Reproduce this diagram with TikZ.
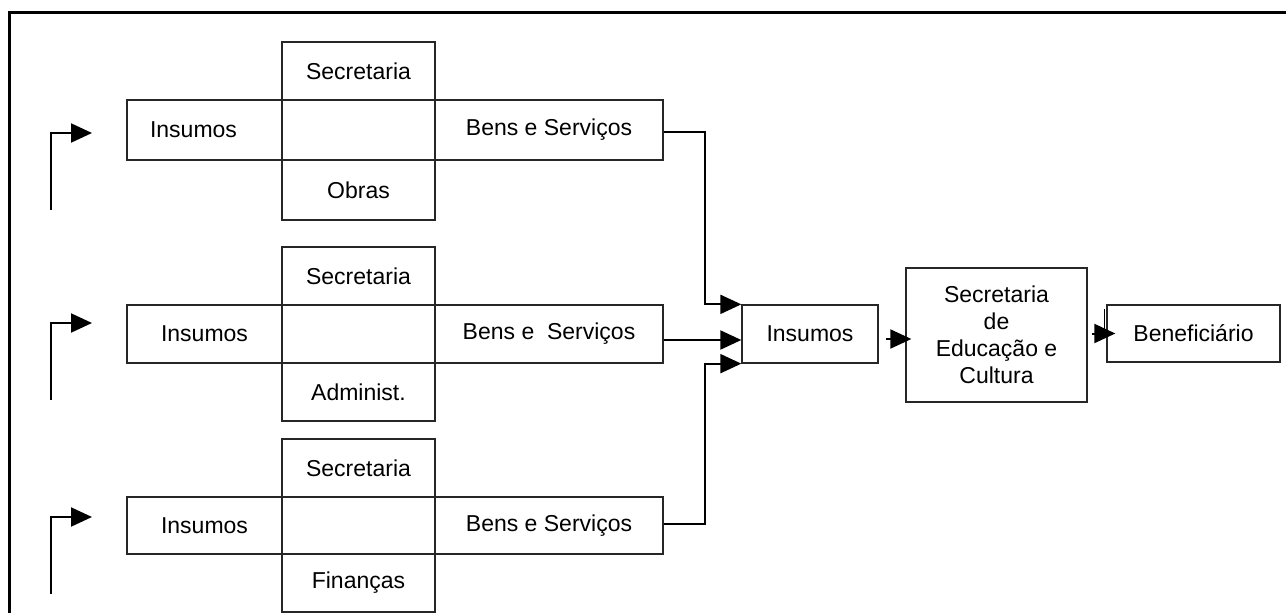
\documentclass[tikz,border=0pt]{standalone}
\usepackage{fontspec}
\setmainfont{Liberation Sans}
\usetikzlibrary{arrows.meta}
\begin{document}
\begin{tikzpicture}[x=1pt,y=-1pt,
  cell/.style={draw=black!85, line width=1.3pt, inner sep=0pt, align=center,
    font=\fontsize{23}{27}\selectfont},
  conn/.style={draw=black, line width=2pt, -{Triangle[length=21pt,width=19pt]}},
  frameline/.style={draw=black, line width=3pt}]
\useasboundingbox (0,0) rectangle (1286,613);
\draw[frameline] (9,613) -- (9,12) -- (1286,12);

% group 1
\node[cell, minimum width=153pt, minimum height=58pt] (s1) at (358.5,71) {Secretaria};
\node[cell, minimum width=155pt, minimum height=60pt] (i1) at (204.5,130) {\hspace*{-22pt}Insumos};
\node[cell, minimum width=228pt, minimum height=60pt] (b1) at (549,130) {Bens e Serviços};
\node[cell, minimum width=153pt, minimum height=60pt] (o1) at (358.5,190) {Obras};
% group 2
\node[cell, minimum width=153pt, minimum height=58pt] (s2) at (358.5,276) {Secretaria};
\node[cell, minimum width=155pt, minimum height=58pt] (i2) at (204.5,334) {Insumos};
\node[cell, minimum width=228pt, minimum height=58pt] (b2) at (549,334) {Bens e\ \ Serviços};
\node[cell, minimum width=153pt, minimum height=58pt] (a2) at (358.5,392) {Administ.};
% group 3
\node[cell, minimum width=153pt, minimum height=58pt] (s3) at (358.5,468) {Secretaria};
\node[cell, minimum width=155pt, minimum height=57pt] (i3) at (204.5,525.5) {Insumos};
\node[cell, minimum width=228pt, minimum height=57pt] (b3) at (549,525.5) {Bens e Serviços};
\node[cell, minimum width=153pt, minimum height=58pt] (f3) at (358.5,583) {Finanças};

% right part
\node[cell, minimum width=136pt, minimum height=58pt] (ci) at (810,334) {Insumos};
\node[cell, minimum width=181pt, minimum height=134pt] (sec) at (996.5,335) {Secretaria\\de\\Educação e\\Cultura};
\node[cell, minimum width=173pt, minimum height=57pt] (ben) at (1193.5,333.5) {Beneficiário};

% left feedback arrows
\coordinate (l1s) at (51,210); \coordinate (l1e) at (92,133);
\coordinate (l2s) at (51,400); \coordinate (l2e) at (92,323);
\coordinate (l3s) at (51,594); \coordinate (l3e) at (92,517);
\draw[conn] (l1s) |- (l1e);
\draw[conn] (l2s) |- (l2e);
\draw[conn] (l3s) |- (l3e);

% connectors into central Insumos
\draw[conn] ([yshift=-2pt]b1.east) -- ++(41,0) |- (ci.north west);
\draw[conn] ([yshift=-6pt]b2.east) -- ([yshift=-6pt]ci.west);
\draw[conn] ([yshift=2pt]b3.east) -- ++(41,0) |- (ci.south west);

% chain to the right
\draw[conn] ([xshift=7pt,yshift=-5pt]ci.east) -- ([xshift=6pt,yshift=-4pt]sec.west);
\draw[conn] ([xshift=4pt]sec.east |- ben.west) -- ([xshift=9pt]ben.west);
\draw[draw=black, line width=1.3pt] ([xshift=-2pt,yshift=-5pt]ben.north west) -- ([xshift=-2pt,yshift=-33pt]ben.north west);
\end{tikzpicture}
\end{document}
